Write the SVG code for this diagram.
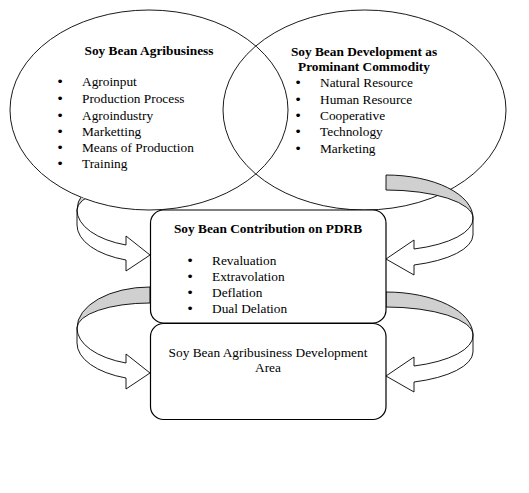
<svg xmlns="http://www.w3.org/2000/svg" width="529" height="493" viewBox="0 0 529 493">
<defs>
<style>
text{font-family:"Liberation Serif","Times New Roman",serif;font-size:13.33px;fill:#000}
.b{font-weight:bold}
.c{text-anchor:middle}
.bu text{font-family:"DejaVu Sans",sans-serif;font-size:13px;text-anchor:middle}
.ell{fill:none;stroke:#000;stroke-width:0.9}
.box{fill:#fff;stroke:#000;stroke-width:1.2}
.back{fill:#d0d0d0;stroke:#000;stroke-width:0.9}
.front{fill:#fff;stroke:#000;stroke-width:0.9}
</style>
<clipPath id="outL">
<path clip-rule="evenodd" d="M0,0 H529 V493 H0 Z M10,110 A139,100 0 1 0 288,110 A139,100 0 1 0 10,110 Z"/>
</clipPath>
</defs>
<rect width="529" height="493" fill="#fff"/>

<g id="agribusiness">
<ellipse class="ell" cx="149" cy="110" rx="139" ry="100"/>
<text class="b c" x="149" y="55">Soy Bean Agribusiness</text>
<g class="bu">
<text x="60" y="86">•</text><text x="60" y="102.5">•</text><text x="60" y="119.5">•</text><text x="60" y="135.5">•</text><text x="60" y="151.5">•</text><text x="60" y="167.5">•</text>
</g>
<text x="82" y="86">Agroinput</text>
<text x="82" y="102.5">Production Process</text>
<text x="82" y="119.5">Agroindustry</text>
<text x="82" y="135.5">Marketting</text>
<text x="82" y="151.5">Means of Production</text>
<text x="82" y="167.5">Training</text>
</g>

<g id="development">
<ellipse class="ell" cx="364.5" cy="110" rx="141.5" ry="100"/>
<text class="b c" x="364" y="56">Soy Bean Development as</text>
<text class="b c" x="364" y="71">Prominant Commodity</text>
<g class="bu">
<text x="298" y="87">•</text><text x="298" y="103.5">•</text><text x="298" y="120">•</text><text x="298" y="136">•</text><text x="298" y="152.5">•</text>
</g>
<text x="320" y="87">Natural Resource</text>
<text x="320" y="103.5">Human Resource</text>
<text x="320" y="120">Cooperative</text>
<text x="320" y="136">Technology</text>
<text x="320" y="152.5">Marketing</text>
</g>

<g id="connectors">
<g clip-path="url(#outL)">
<path class="back" d="M150,169 A73,41 0 0 0 77,210 A73,25 0 0 1 150,185 Z"/>
<path class="front" d="M77,210 L77,225 A73,37 0 0 0 126,260 L126,271 L150,255 L126,236 L126,245 A73,37 0 0 1 77,210 Z"/>
</g>
<path class="back" d="M150,287 A73,41 0 0 0 77,328 A73,25 0 0 1 150,303 Z"/>
<path class="front" d="M77,328 L77,343 A73,37 0 0 0 126,378 L126,389 L150,373 L126,354 L126,363 A73,37 0 0 1 77,328 Z"/>
<path class="back" d="M386,175 A87,43 0 0 1 473,218 A87,28 0 0 0 386,190 Z"/>
<path class="front" d="M473,218 L473,235 A87,32 0 0 1 414,265 L414,275 L386,259 L414,240 L414,249 A87,32 0 0 0 473,218 Z"/>
<path class="back" d="M386,292 A87,43 0 0 1 473,335 A87,28 0 0 0 386,307 Z"/>
<path class="front" d="M473,335 L473,352 A87,32 0 0 1 414,382 L414,392 L386,376 L414,357 L414,366 A87,32 0 0 0 473,335 Z"/>
</g>

<g id="contribution">
<rect class="box" x="150.5" y="210" width="235.5" height="113" rx="13"/>
<text class="b c" x="268" y="233">Soy Bean Contribution on PDRB</text>
<g class="bu">
<text x="190" y="264.5">•</text><text x="190" y="280.5">•</text><text x="190" y="296.5">•</text><text x="190" y="313">•</text>
</g>
<text x="212" y="264.5">Revaluation</text>
<text x="212" y="280.5">Extravolation</text>
<text x="212" y="296.5">Deflation</text>
<text x="212" y="313">Dual Delation</text>
</g>

<g id="area">
<rect class="box" x="150.5" y="323.5" width="235.5" height="96" rx="13"/>
<text class="c" x="268" y="357">Soy Bean Agribusiness Development</text>
<text class="c" x="268" y="372">Area</text>
</g>
</svg>
